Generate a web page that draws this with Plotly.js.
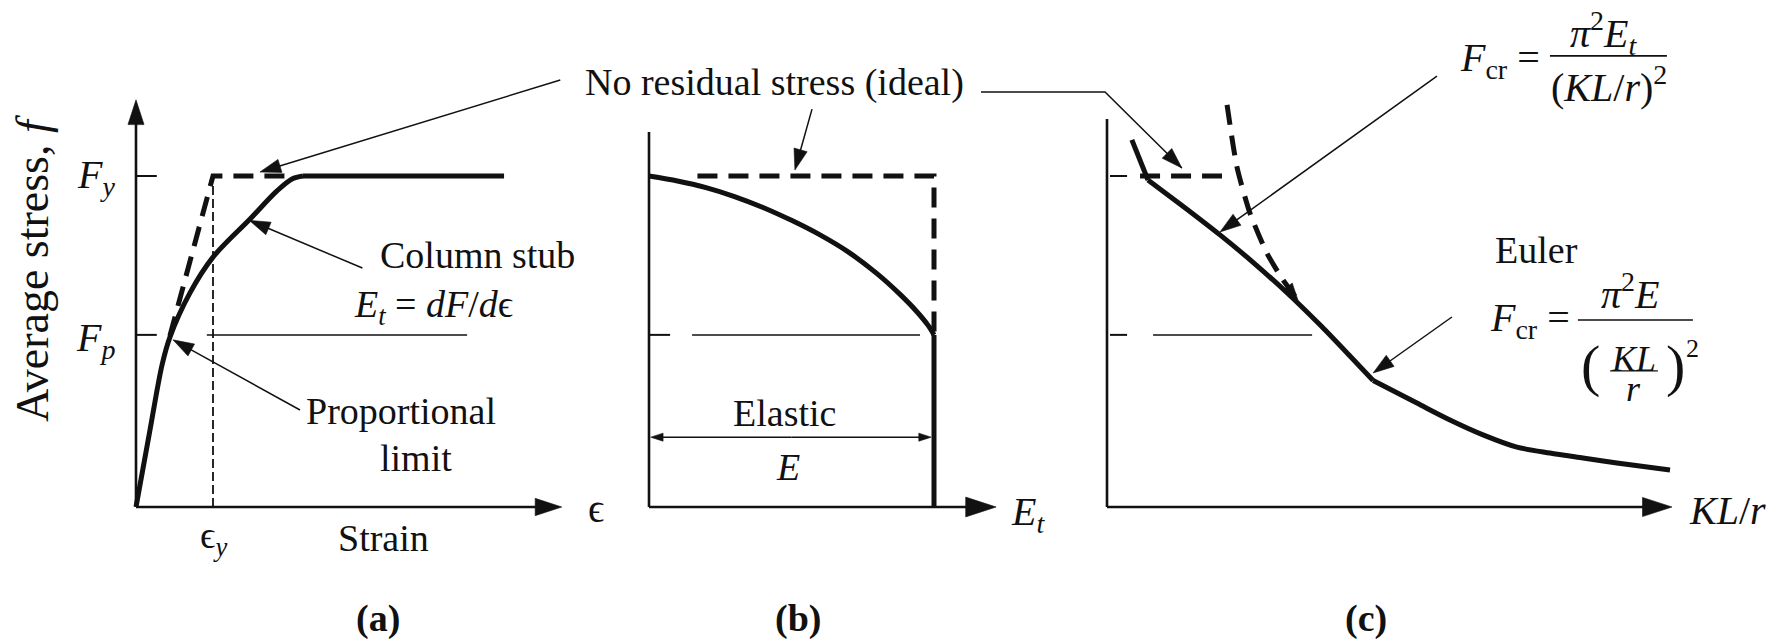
<!DOCTYPE html>
<html>
<head>
<meta charset="utf-8">
<script src="https://cdn.plot.ly/plotly-3.0.1.min.js"></script>
<style>
  html, body { margin: 0; padding: 0; background: #fff; }
  #fig { width: 1777px; height: 639px; }
</style>
</head>
<body>
<div id="fig"></div>
<script>
// Normalised quantities: stress f/Fy, strain ε/εy, tangent modulus Et/E, slenderness KL/r
const FY = 1.0;
const FP = 0.52;
const EPS_Y = 1.0;
const E_RATIO = 1.0;

// (a) column-stub stress–strain curve
const strainA = [0, 0.182, 0.338, 0.442, 0.701, 1.0, 1.481, 1.831, 2.026, 2.169];
const stressA = [0, 0.233, 0.429, 0.514, 0.647, 0.755, 0.870, 0.955, 0.991, 1.0];
const plateauStrainA = [2.169, 4.78];
// ideal material (no residual stress)
const idealStrainA = [0.44, 1.0, 1.97];
const idealStressA = [0.517, 1.0, 1.0];
const strainAxisEndA = 5.53;
const stressAxisEndA = 1.23;

// (b) tangent modulus against stress
const etRatioB = [0, 0.1, 0.2, 0.3, 0.4, 0.5, 0.6, 0.7, 0.8, 0.88, 0.94, 0.98, 1.0];
const stressB = [1.0, 0.985, 0.965, 0.938, 0.905, 0.866, 0.822, 0.770, 0.705, 0.643, 0.590, 0.548, 0.52];
const idealEtB = [0.17, 1.0, 1.0];
const idealStressB = [1.0, 1.0, 0.52];
const etAxisEndB = 1.218;
const stressAxisEndB = 1.133;

// (c) column strength against slenderness
const klrStubC = [8.8, 14.5];
const stressStubC = [1.109, 0.988];
const klrInelasticC = [14.5, 27, 40, 52, 64, 76, 86, 94.2];
const stressInelasticC = [0.988, 0.908, 0.822, 0.737, 0.645, 0.545, 0.456, 0.382];
const klrEulerC = [94.2, 109.7, 121.4, 133.1, 145.1, 156.8, 168.5, 180.5, 199.3];
const stressEulerC = [0.382, 0.314, 0.263, 0.218, 0.181, 0.163, 0.148, 0.133, 0.112];
const idealPlateauKlrC = [11.7, 40.7];
const idealEulerKlrC = [42.5, 46.0, 50.6, 56.6, 62.3, 67.6];
const idealEulerStressC = [1.215, 1.027, 0.888, 0.767, 0.686, 0.625];
const klrAxisEndC = 200;
const stressAxisEndC = 1.172;

// ---- page geometry: each panel gets its own pair of axes spanning the page
const W = 1777, H = 639;
const INK = '#111111';
const SERIF = 'Liberation Serif, Times New Roman, Times, serif';
const panels = {
  a: { xa: 'x',  ya: 'y',  ox: 136,  oy: 507, sx: 77,    sy: 331 },
  b: { xa: 'x2', ya: 'y2', ox: 649,  oy: 507, sx: 285,   sy: 331 },
  c: { xa: 'x3', ya: 'y3', ox: 1107, oy: 507, sx: 2.825, sy: 331 }
};

function axisPair(p) {
  const base = { visible: false, fixedrange: true, domain: [0, 1] };
  return [
    Object.assign({}, base, { range: [-p.ox / p.sx, (W - p.ox) / p.sx] }),
    Object.assign({}, base, { range: [-(H - p.oy) / p.sy, p.oy / p.sy] })
  ];
}

const traces = [];
function path(pk, xs, ys, width, lineExtra) {
  const p = panels[pk];
  traces.push({
    type: 'scatter', mode: 'lines', x: xs, y: ys,
    xaxis: p.xa, yaxis: p.ya, hoverinfo: 'skip', cliponaxis: false,
    line: Object.assign({ color: INK, width: width }, lineExtra || {})
  });
}
// line ending in a solid arrowhead at its last point
function arrow(pk, xs, ys, width, head, lineExtra) {
  const p = panels[pk];
  traces.push({
    type: 'scatter', mode: 'lines+markers', x: xs, y: ys,
    xaxis: p.xa, yaxis: p.ya, hoverinfo: 'skip', cliponaxis: false,
    line: Object.assign({ color: INK, width: width }, lineExtra || {}),
    marker: {
      symbol: 'arrow', angleref: 'previous', color: INK, opacity: 1,
      size: xs.map((_, i) => (i === xs.length - 1 ? head : 0)),
      line: { width: 0.6, color: INK }
    }
  });
}

const AXW = 2.6, THIN = 1.5, THICK = 5, DASH = '20px,11px';
const LEAD = 22;

// ---------- (a)
arrow('a', [0, 0], [0, stressAxisEndA], AXW, 26);
arrow('a', [0, strainAxisEndA], [0, 0], AXW, 28);
path('a', [0.01, 0.27], [FY, FY], 2);
path('a', [0.01, 0.27], [FP, FP], 2);
path('a', [0.92, 4.30], [FP, FP], THIN);
path('a', [EPS_Y, EPS_Y], [0, FY], 1.8, { dash: '9px,4px' });
path('a', idealStrainA, idealStressA, THICK, { dash: DASH });
path('a', strainA, stressA, THICK, { shape: 'spline', smoothing: 0.9 });
path('a', plateauStrainA, [FY, FY], THICK);
arrow('a', [2.94, 1.47], [0.722, 0.866], THIN, LEAD);
arrow('a', [2.13, 0.48], [0.293, 0.505], THIN, LEAD);
arrow('a', [5.51, 1.61], [1.29, 1.012], THIN, LEAD);

// ---------- (b)
path('b', [0, 0], [0, stressAxisEndB], AXW);
arrow('b', [0, etAxisEndB], [0, 0], AXW, 32);
path('b', [0.0035, 0.074], [FP, FP], 2);
path('b', [0.151, 0.951], [FP, FP], THIN);
path('b', idealEtB, idealStressB, THICK, { dash: DASH });
path('b', etRatioB, stressB, THICK, { shape: 'spline', smoothing: 0.8 });
path('b', [E_RATIO, E_RATIO], [FP, 0], THICK);
arrow('b', [0.5, 0.006], [0.211, 0.211], THIN, 13);
arrow('b', [0.5, 0.99], [0.211, 0.211], THIN, 13);
arrow('b', [0.572, 0.512], [1.202, 1.018], THIN, LEAD);

// ---------- (c)
path('c', [0, 0], [0, stressAxisEndC], AXW);
arrow('c', [0, klrAxisEndC], [0, 0], AXW, 31);
path('c', [1.06, 7.1], [FY, FY], 2);
path('c', [1.06, 7.1], [FP, FP], 2);
path('c', [16.3, 72.6], [FP, FP], THIN);
path('c', idealPlateauKlrC, [FY, FY], THICK, { dash: DASH });
arrow('c', idealEulerKlrC, idealEulerStressC, THICK, 18, { dash: DASH, shape: 'spline', smoothing: 0.6 });
path('c', klrStubC, stressStubC, THICK);
path('c', klrInelasticC, stressInelasticC, THICK, { shape: 'spline', smoothing: 0.6 });
path('c', klrEulerC, stressEulerC, THICK, { shape: 'spline', smoothing: 0.8 });
arrow('c', [-44.6, -0.7, 26.5], [1.254, 1.254, 1.024], THIN, LEAD);
arrow('c', [116.8, 40.0], [1.302, 0.831], THIN, LEAD);
arrow('c', [122.1, 94.2], [0.574, 0.405], THIN, LEAD);
// fraction bars of the two formulas
path('c', [156.8, 198.2], [1.363, 1.363], 1.6);
path('c', [166.7, 207.4], [0.565, 0.565], 1.6);
path('c', [178.1, 195.0], [0.411, 0.411], 1.3);

// ---------- text
const annotations = [];
function label(pk, text, x, y, size, extra) {
  const p = panels[pk];
  annotations.push(Object.assign({
    xref: p.xa, yref: p.ya, x: x, y: y, text: text, showarrow: false,
    xanchor: 'center', yanchor: 'middle', borderpad: 0,
    font: { family: SERIF, size: size || 38, color: INK }
  }, extra || {}));
}

label('a', '<i>F<sub>y</sub></i>', -0.52, 0.997, 40);
label('a', '<i>F<sub>p</sub></i>', -0.52, 0.505, 40);
label('a', 'Average stress, <i>f</i>', -1.35, 0.722, 46, { textangle: -90 });
label('a', 'ϵ<sub><i>y</i></sub>', EPS_Y, -0.094, 38);
label('a', 'Strain', 3.21, -0.094, 38);
label('a', 'ϵ', 5.97, -0.006, 40);
label('a', 'Column stub', 4.44, 0.761, 38);
label('a', '<i>E<sub>t</sub></i> = <i>dF</i>/<i>d</i>ϵ', 3.86, 0.604, 38);
label('a', 'Proportional', 3.44, 0.29, 38);
label('a', 'limit', 3.64, 0.148, 38);
label('a', '<b>(a)</b>', 3.14, -0.338, 38);

label('b', 'No residual stress (ideal)', 0.442, 1.284, 38);
label('b', 'Elastic', 0.477, 0.284, 38);
label('b', '<i>E</i>', 0.488, 0.121, 38);
label('b', '<i>E<sub>t</sub></i>', 1.33, -0.02, 40);
label('b', '<b>(b)</b>', 0.523, -0.338, 38);

label('c', '<i>KL</i>/<i>r</i>', 219.5, -0.01, 40);
label('c', '<i>F</i><sub>cr</sub> =', 139.1, 1.350, 40);
label('c', '<i>π</i><sup>2</sup><i>E<sub>t</sub></i>', 175.6, 1.432, 40);
label('c', '(<i>KL</i>/<i>r</i>)<sup>2</sup>', 177.7, 1.275, 40);
label('c', 'Euler', 152.2, 0.776, 38);
label('c', '<i>F</i><sub>cr</sub> =', 149.7, 0.565, 40);
label('c', '<i>π</i><sup>2</sup><i>E</i>', 185.1, 0.650, 40);
label('c', '(', 171.0, 0.426, 58);
label('c', ')', 201.1, 0.426, 58);
label('c', '<i>KL</i>', 186.2, 0.447, 36);
label('c', '<i>r</i>', 186.2, 0.356, 36);
label('c', '2', 207.1, 0.48, 26);
label('c', '<b>(c)</b>', 91.7, -0.338, 38);

const [xa, ya] = axisPair(panels.a);
const [xb, yb] = axisPair(panels.b);
const [xc, yc] = axisPair(panels.c);
xb.overlaying = 'x'; xb.anchor = 'y2'; yb.overlaying = 'y'; yb.anchor = 'x2';
xc.overlaying = 'x'; xc.anchor = 'y3'; yc.overlaying = 'y'; yc.anchor = 'x3';

const layout = {
  width: W, height: H,
  margin: { l: 0, r: 0, t: 0, b: 0, pad: 0, autoexpand: false },
  paper_bgcolor: '#fff', plot_bgcolor: '#fff',
  showlegend: false,
  xaxis: xa, yaxis: ya, xaxis2: xb, yaxis2: yb, xaxis3: xc, yaxis3: yc,
  annotations: annotations
};

Plotly.newPlot('fig', traces, layout, { staticPlot: true, displayModeBar: false });
</script>
</body>
</html>
